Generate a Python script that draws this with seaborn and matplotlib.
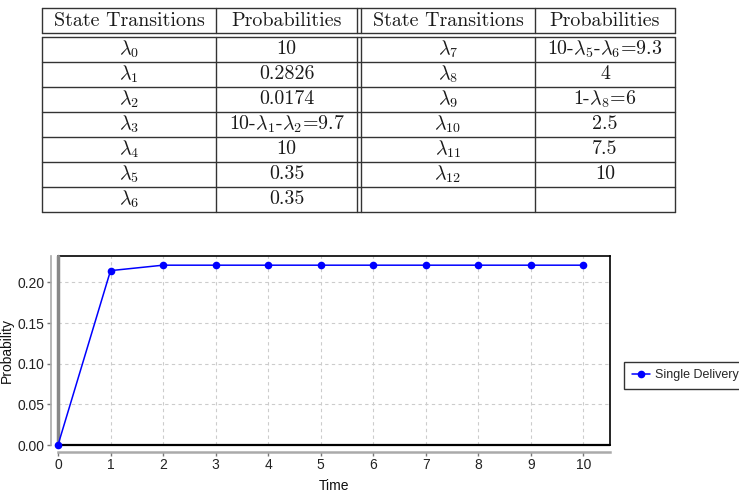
import matplotlib
matplotlib.use("Agg")
import matplotlib.pyplot as plt
from matplotlib.lines import Line2D
import seaborn as sns
import pandas as pd

# ---- data ----
time = [0, 1, 2, 3, 4, 5, 6, 7, 8, 9, 10]
probability = [0.0, 0.2145, 0.2212, 0.2212, 0.2212, 0.2212, 0.2212, 0.2212, 0.2212, 0.2212, 0.2212]
series_name = "Single Delivery"

table_headers = ["State Transitions", "Probabilities", "State Transitions", "Probabilities"]
left_transitions = [r"$\lambda_0$", r"$\lambda_1$", r"$\lambda_2$", r"$\lambda_3$", r"$\lambda_4$", r"$\lambda_5$", r"$\lambda_6$"]
left_probs = ["10", "0.2826", "0.0174", r"10-$\lambda_1$-$\lambda_2$=9.7", "10", "0.35", "0.35"]
right_transitions = [r"$\lambda_7$", r"$\lambda_8$", r"$\lambda_9$", r"$\lambda_{10}$", r"$\lambda_{11}$", r"$\lambda_{12}$", ""]
right_probs = [r"10-$\lambda_5$-$\lambda_6$=9.3", "4", r"1-$\lambda_8$=6", "2.5", "7.5", "10", ""]

sns.set_theme(style="whitegrid")
plt.rcParams["font.family"] = ["Liberation Sans", "DejaVu Sans"]
plt.rcParams["mathtext.fontset"] = "cm"

W, H = 739, 498
fig = plt.figure(figsize=(W / 100, H / 100), dpi=100)
fig.patch.set_facecolor("white")

# ---- table (figure pixel coordinates, y from top) ----
tab = fig.add_axes([0, 0, 1, 1])
tab.set_xlim(0, W)
tab.set_ylim(H, 0)
tab.axis("off")
tab.set_zorder(-1)

xs = [42, 216, 357, 361, 535, 675]
col_centers = [(42 + 216) / 2, (216 + 357) / 2, (361 + 535) / 2, (535 + 675) / 2]
head_top, head_bot = 8, 33
data_top, row_h, nrows = 37, 25, 7
data_bot = data_top + row_h * nrows
lk = dict(color="#333333", lw=1.0)
for y in (head_top, head_bot):
    tab.plot([42, 675], [y, y], **lk)
for x in xs:
    tab.plot([x, x], [head_top, head_bot], **lk)
for i in range(nrows + 1):
    y = data_top + i * row_h
    tab.plot([42, 675], [y, y], **lk)
for x in xs:
    tab.plot([x, x], [data_top, data_bot], **lk)

tfont = dict(fontfamily="cmr10", fontsize=14.4, ha="center", va="center", color="#1a1a1a")
for cx, h in zip(col_centers, table_headers):
    tab.text(cx, (head_top + head_bot) / 2 + 1, h, **tfont)
cols = [left_transitions, left_probs, right_transitions, right_probs]
for cx, col in zip(col_centers, cols):
    for i, s in enumerate(col):
        if s:
            tab.text(cx, data_top + i * row_h + row_h / 2, s, **tfont)

# ---- line chart ----
ax_l, ax_r, ax_t, ax_b = 58, 610, 256, 445
ax = fig.add_axes([ax_l / W, 1 - ax_b / H, (ax_r - ax_l) / W, (ax_b - ax_t) / H])
df = pd.DataFrame({"Time": time, "Probability": probability})
sns.lineplot(data=df, x="Time", y="Probability", ax=ax, color="#0000FF",
             marker="o", markersize=5.5, markeredgewidth=0, linewidth=1.1,
             clip_on=False, zorder=5)
ax.set_xlim(0, 10.51)
ax.set_ylim(0, 0.2325)
ax.set_xticks(range(0, 11))
ax.set_yticks([0.0, 0.05, 0.10, 0.15, 0.20])
ax.set_yticklabels(["0.00", "0.05", "0.10", "0.15", "0.20"])
ax.grid(True, color="#cccccc", linestyle=(0, (3, 3)), linewidth=0.8)
ax.set_facecolor("white")
for s in ("top", "right"):
    ax.spines[s].set_color("black")
    ax.spines[s].set_linewidth(1.2)
ax.spines["bottom"].set_position(("outward", 5))
ax.spines["bottom"].set_color("#aaaaaa")
ax.spines["bottom"].set_linewidth(1.8)
ax.spines["left"].set_position(("outward", 5))
ax.spines["left"].set_color("#aaaaaa")
ax.spines["left"].set_linewidth(1.2)
ax.axhline(0, color="black", lw=1.6, zorder=4, clip_on=False)
ax.axvline(0, color="#888888", lw=2.5, zorder=4, clip_on=False)
ax.tick_params(axis="both", labelsize=10, colors="#222222", length=3,
               width=1, color="#777777", pad=1.5, bottom=True, left=True)
ax.set_xlabel("Time", fontsize=10, color="#111111", labelpad=5)
ax.set_ylabel("Probability", fontsize=10, color="#111111", labelpad=3)

handle = Line2D([0], [0], color="#0000FF", marker="o", markersize=4.5, linewidth=1.1)
leg = fig.legend([handle], [series_name], loc="center left",
                 bbox_to_anchor=(624 / W, 1 - 375 / H), frameon=True,
                 fancybox=False, fontsize=9, handlelength=1.5,
                 borderpad=0.6, handletextpad=0.35, borderaxespad=0)
leg.get_frame().set_edgecolor("black")
leg.get_frame().set_linewidth(1.0)

fig.savefig("out.png", dpi=100)
